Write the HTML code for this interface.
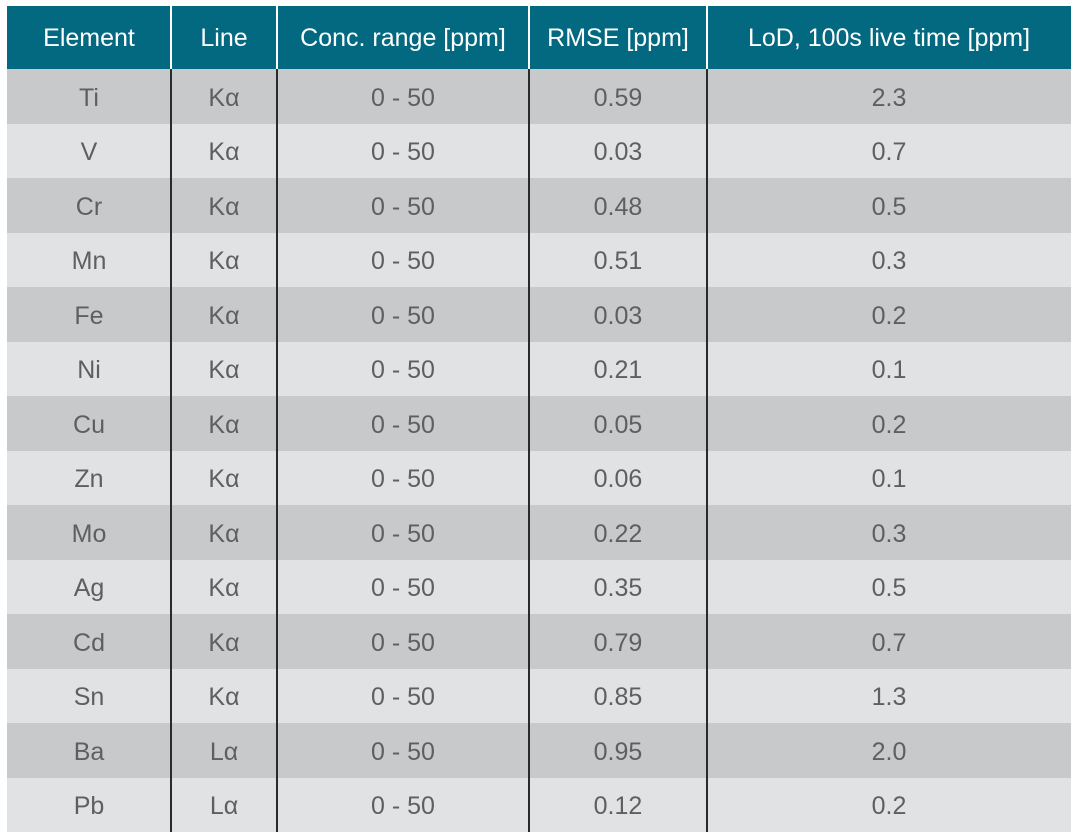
<!DOCTYPE html>
<html><head><style>
body{margin:0;width:1080px;height:839px;background:#fff;position:relative;font-family:"Liberation Sans",sans-serif;overflow:hidden}
.r{position:absolute;left:7px;width:1064px;height:54.5px}
.c{position:absolute;top:2px;height:100%;display:flex;align-items:center;justify-content:center;font-size:25px;color:#5f5f5f}
.h .c{color:#fff;font-size:25px;top:1px}
.v{position:absolute;width:2px;background:#2a2a2a;top:69px;height:763px}
.vh{position:absolute;width:2px;background:#fff;top:6px;height:63px}
</style></head><body>
<div id="t"></div>
<script>
const cols=[[7,171],[171,277],[277,529],[529,707],[707,1071]];
const rows=[["Element","Line","Conc. range [ppm]","RMSE [ppm]","LoD, 100s live time [ppm]"],
["Ti","Kα","0 - 50","0.59","2.3"],["V","Kα","0 - 50","0.03","0.7"],["Cr","Kα","0 - 50","0.48","0.5"],
["Mn","Kα","0 - 50","0.51","0.3"],["Fe","Kα","0 - 50","0.03","0.2"],["Ni","Kα","0 - 50","0.21","0.1"],
["Cu","Kα","0 - 50","0.05","0.2"],["Zn","Kα","0 - 50","0.06","0.1"],["Mo","Kα","0 - 50","0.22","0.3"],
["Ag","Kα","0 - 50","0.35","0.5"],["Cd","Kα","0 - 50","0.79","0.7"],["Sn","Kα","0 - 50","0.85","1.3"],
["Ba","Lα","0 - 50","0.95","2.0"],["Pb","Lα","0 - 50","0.12","0.2"]];
let h="";
rows.forEach((r,i)=>{
 let top=i==0?6:69+(i-1)*54.5, ht=i==0?63:54.5;
 let bg=i==0?"#036980":(i%2?"#c8c9ca":"#e1e2e3");
 h+=`<div class="r${i==0?' h':''}" style="top:${top}px;height:${ht}px;background:${bg}">`;
 r.forEach((t,j)=>{h+=`<div class="c" style="left:${cols[j][0]-7}px;width:${cols[j][1]-cols[j][0]}px">${t}</div>`});
 h+="</div>";
});
[170,276,528,706].forEach(x=>{h+=`<div class="v" style="left:${x}px"></div><div class="vh" style="left:${x}px"></div>`});
document.getElementById("t").innerHTML=h;
</script>
</body></html>
